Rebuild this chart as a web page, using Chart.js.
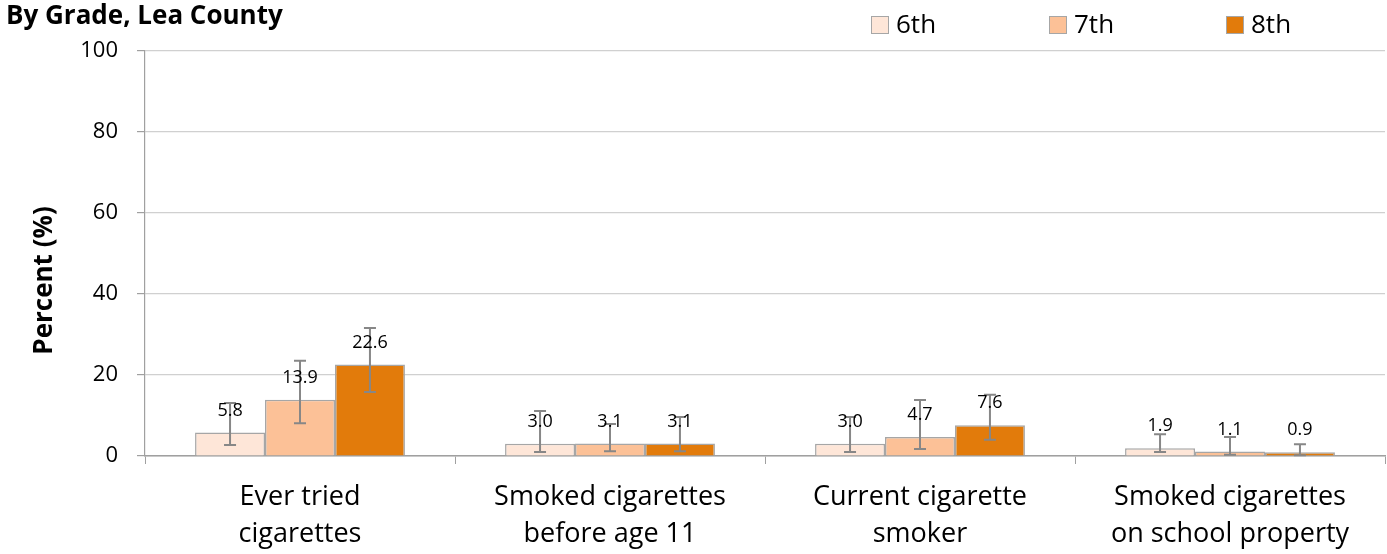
<!DOCTYPE html>
<html>
<head>
<meta charset="utf-8">
<script src="https://cdn.jsdelivr.net/npm/chart.js@4/dist/chart.umd.min.js"></script>
<style>
  html, body { margin: 0; padding: 0; background: #fff; overflow: hidden; }
  canvas { display: block; }
</style>
</head>
<body>
<canvas id="chart" width="1387" height="554"></canvas>
<script>
// Datos del gráfico
const categories = [
  ['Ever tried', 'cigarettes'],
  ['Smoked cigarettes', 'before age 11'],
  ['Current cigarette', 'smoker'],
  ['Smoked cigarettes', 'on school property']
];
const grades = ['6th', '7th', '8th'];
const grade6 = [5.8, 3.0, 3.0, 1.9];
const grade7 = [13.9, 3.1, 4.7, 1.1];
const grade8 = [22.6, 3.1, 7.6, 0.9];
// intervalos de confianza (inferior / superior)
const low6 = [2.7, 1.0, 1.0, 1.0];
const high6 = [13.1, 11.1, 9.6, 5.4];
const low7 = [8.1, 1.2, 1.7, 0.3];
const high7 = [23.5, 7.9, 13.8, 4.7];
const low8 = [15.8, 1.2, 4.0, 0.2];
const high8 = [31.6, 9.6, 15.1, 2.9];
const yTicks = [0, 20, 40, 60, 80, 100];

const colors = ['#FEE6D8', '#FCC197', '#E27B0B'];
const font = '"Open Sans", Lato, sans-serif';

// Barras de erro, rótulos, título e legenda
const extras = {
  id: 'extras',
  afterDatasetsDraw(chart) {
    const ctx = chart.ctx;
    const y = chart.scales.y;
    chart.data.datasets.forEach((ds, i) => {
      const meta = chart.getDatasetMeta(i);
      meta.data.forEach((bar, j) => {
        const x = bar.x;
        const yl = y.getPixelForValue(ds.low[j]);
        const yh = y.getPixelForValue(ds.high[j]);
        ctx.save();
        ctx.strokeStyle = '#878787';
        ctx.lineWidth = 2;
        ctx.beginPath();
        ctx.moveTo(x, yl); ctx.lineTo(x, yh);
        ctx.moveTo(x - 6, yl); ctx.lineTo(x + 6, yl);
        ctx.moveTo(x - 6, yh); ctx.lineTo(x + 6, yh);
        ctx.stroke();
        ctx.fillStyle = '#000';
        ctx.font = '18px ' + font;
        ctx.textAlign = 'center';
        ctx.textBaseline = 'middle';
        ctx.fillText(ds.data[j].toFixed(1), x, bar.y - 22);
        ctx.restore();
      });
    });
  },
  afterDraw(chart) {
    const ctx = chart.ctx;
    const area = chart.chartArea;
    ctx.save();
    ctx.fillStyle = '#000';
    ctx.font = 'bold 26px ' + font;
    ctx.textBaseline = 'middle';
    ctx.textAlign = 'left';
    ctx.fillText('By Grade, Lea County', 6, 17);
    // título do eixo y
    ctx.save();
    ctx.translate(45, (area.top + area.bottom) / 2 + 27);
    ctx.rotate(-Math.PI / 2);
    ctx.textAlign = 'center';
    ctx.font = 'bold 26px ' + font;
    ctx.fillText('Percent (%)', 0, 0);
    ctx.restore();
    // legenda
    const lx = [871, 1049, 1226];
    ctx.font = '26px ' + font;
    grades.forEach((g, i) => {
      ctx.fillStyle = colors[i];
      ctx.fillRect(lx[i], 16, 18, 18);
      ctx.strokeStyle = '#A6A6A6';
      ctx.lineWidth = 1;
      ctx.strokeRect(lx[i] + 0.5, 16.5, 17, 17);
      ctx.fillStyle = '#000';
      ctx.fillText(g, lx[i] + 25, 26);
    });
    ctx.restore();
  }
};

const ctx = document.getElementById('chart').getContext('2d');
new Chart(ctx, {
  type: 'bar',
  data: {
    labels: categories,
    datasets: [
      { label: grades[0], data: grade6, low: low6, high: high6 },
      { label: grades[1], data: grade7, low: low7, high: high7 },
      { label: grades[2], data: grade8, low: low8, high: high8 }
    ].map((d, i) => Object.assign(d, {
      backgroundColor: colors[i],
      borderColor: '#A6A6A6',
      borderWidth: 1.5,
      categoryPercentage: 0.677,
      barPercentage: 1
    }))
  },
  options: {
    responsive: false,
    animation: false,
    devicePixelRatio: 1,
    layout: { padding: { top: 51, right: 2, left: 0, bottom: 0 } },
    plugins: {
      legend: { display: false },
      tooltip: { enabled: false }
    },
    scales: {
      x: {
        grid: { offset: true, drawOnChartArea: false, color: '#A0A0A0', tickLength: 8 },
        border: { color: '#A0A0A0', width: 1.5 },
        ticks: { color: '#000', font: { family: font, size: 27, lineHeight: 1.4 }, padding: 14, maxRotation: 0 },
        afterFit(scale) { scale.height = 98; }
      },
      y: {
        min: 0, max: 100,
        afterBuildTicks(scale) { scale.ticks = yTicks.map(v => ({ value: v })); },
        grid: { color: '#D0D0D0', lineWidth: 1.2, tickLength: 8, tickColor: '#A0A0A0' },
        border: { color: '#A0A0A0', width: 1.2 },
        ticks: { color: '#000', font: { family: font, size: 22 }, padding: 19 },
        afterFit(scale) { scale.width = 145; }
      }
    }
  },
  plugins: [extras]
});
</script>
</body>
</html>
